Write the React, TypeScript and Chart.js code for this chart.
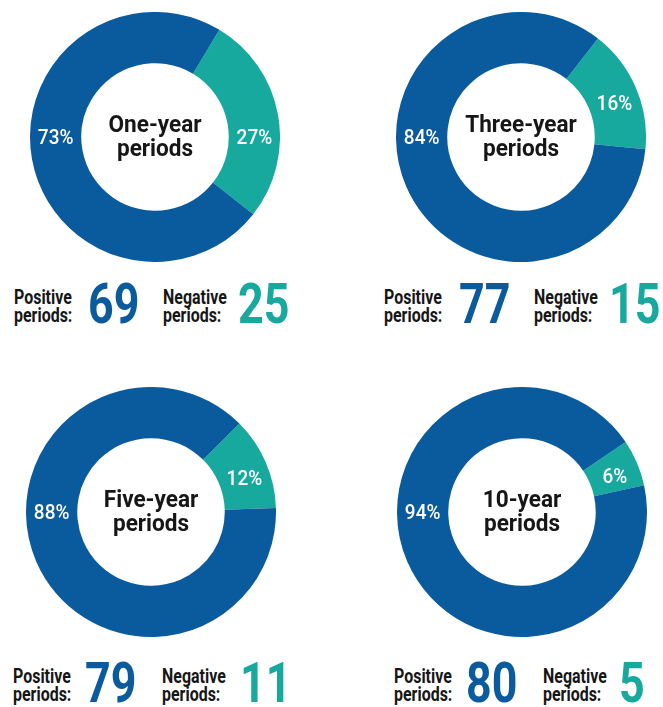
import React, { useEffect, useRef } from "react";
import { Chart, registerables } from "chart.js";

Chart.register(...registerables);

// ---------- data ----------
const sliceCategories = ["Negative", "Positive"];
const titleLine1 = ["One-year", "Three-year", "Five-year", "10-year"];
const titleLine2 = ["periods", "periods", "periods", "periods"];
const negativePct = [27, 16, 12, 6];
const positivePct = [73, 84, 88, 94];
const positiveCounts = [69, 77, 79, 80];
const negativeCounts = [25, 15, 11, 5];
const positiveLabel = ["Positive", "periods:"];
const negativeLabel = ["Negative", "periods:"];

// ---------- style / layout ----------
const BLUE = "#0a5a9e";
const TEAL = "#17a99e";
const INK = "#161616";
const FONT = "Roboto, 'Noto Sans', sans-serif";
const SIZE = 250;
const centers: number[][] = [
  [155, 137],
  [521, 137],
  [151, 512],
  [522, 512],
];
const startAngles = [31, 38, 45, 56];
const tealLabelAngles = [90, 70, 70, 69];
const blueLabelAngle = 270;
const rowTops = [283, 283, 662, 662];
const rowX: number[][] = [
  [14, 88, 163, 238],
  [384, 459, 534, 609],
  [13, 85, 162, 240],
  [394, 466, 543, 619],
];

const labelPlugin = {
  id: "periodLabels",
  afterDatasetsDraw(chart: any, _args: any, opts: any) {
    const idx: number = opts.index;
    const { ctx } = chart;
    const meta = chart.getDatasetMeta(0);
    const values = chart.data.datasets[0].data as number[];
    const angles = [tealLabelAngles[idx], blueLabelAngle];
    ctx.save();
    ctx.fillStyle = "#ffffff";
    ctx.font = `500 20px ${FONT}`;
    ctx.textAlign = "center";
    ctx.textBaseline = "alphabetic";
    let cx = 0;
    let cy = 0;
    meta.data.forEach((arc: any, i: number) => {
      const p = arc.getProps(["x", "y", "innerRadius", "outerRadius"], true);
      cx = p.x;
      cy = p.y;
      const r = (p.innerRadius + p.outerRadius) / 2;
      const a = (angles[i] * Math.PI) / 180;
      const px = p.x + r * Math.sin(a);
      const py = p.y - r * Math.cos(a);
      ctx.save();
      ctx.translate(px, py + 7);
      ctx.scale(0.95, 1);
      ctx.fillText(values[i] + "%", 0, 0);
      ctx.restore();
    });
    // center title
    ctx.fillStyle = INK;
    ctx.font = `700 24px ${FONT}`;
    const lines = [titleLine1[idx], titleLine2[idx]];
    const offs = [-5, 19];
    lines.forEach((t, k) => {
      ctx.save();
      ctx.translate(cx, cy + offs[k]);
      ctx.scale(0.94, 1);
      ctx.fillText(t, 0, 0);
      ctx.restore();
    });
    ctx.restore();
  },
};

function Donut({ index }: { index: number }) {
  const ref = useRef<HTMLCanvasElement | null>(null);
  useEffect(() => {
    if (!ref.current) return;
    const chart = new Chart(ref.current, {
      type: "doughnut",
      data: {
        labels: sliceCategories,
        datasets: [
          {
            data: [negativePct[index], positivePct[index]],
            backgroundColor: [TEAL, BLUE],
            borderWidth: 0,
            hoverBorderWidth: 0,
            hoverOffset: 0,
            offset: 0,
          },
        ],
      },
      options: {
        responsive: false,
        animation: false,
        events: [],
        cutout: "59%",
        rotation: startAngles[index],
        layout: { padding: 0 },
        plugins: {
          legend: { display: false },
          tooltip: { enabled: false },
          periodLabels: { index },
        } as any,
      },
      plugins: [labelPlugin as any],
    });
    return () => chart.destroy();
  }, [index]);
  const [x, y] = centers[index];
  return (
    <canvas
      ref={ref}
      width={SIZE}
      height={SIZE}
      style={{ position: "absolute", left: x - SIZE / 2, top: y - SIZE / 2, width: SIZE, height: SIZE }}
    />
  );
}

function TwoLine({ lines, left, top }: { lines: string[]; left: number; top: number }) {
  return (
    <div
      style={{
        position: "absolute",
        left,
        top,
        fontFamily: FONT,
        fontWeight: 700,
        fontSize: 21,
        lineHeight: "18px",
        color: INK,
        whiteSpace: "nowrap",
        transform: "scaleX(0.76)",
        transformOrigin: "0 0",
      }}
    >
      {lines[0]}
      <br />
      {lines[1]}
    </div>
  );
}

function BigNum({ value, left, top, color }: { value: number; left: number; top: number; color: string }) {
  return (
    <div
      style={{
        position: "absolute",
        left,
        top,
        fontFamily: FONT,
        fontWeight: 700,
        fontSize: 56,
        lineHeight: "56px",
        color,
        whiteSpace: "nowrap",
        transform: "scaleX(0.8)",
        transformOrigin: "0 0",
      }}
    >
      {value}
    </div>
  );
}

export default function App() {
  return (
    <div
      style={{
        position: "absolute",
        left: 0,
        top: 0,
        width: 663,
        height: 707,
        background: "#ffffff",
        overflow: "hidden",
      }}
    >
      {[0, 1, 2, 3].map((i) => (
        <React.Fragment key={i}>
          <Donut index={i} />
          <TwoLine lines={positiveLabel} left={rowX[i][0]} top={rowTops[i] + 5} />
          <BigNum value={positiveCounts[i]} left={rowX[i][1]} top={rowTops[i] - 7} color={BLUE} />
          <TwoLine lines={negativeLabel} left={rowX[i][2]} top={rowTops[i] + 5} />
          <BigNum value={negativeCounts[i]} left={rowX[i][3]} top={rowTops[i] - 7} color={TEAL} />
        </React.Fragment>
      ))}
    </div>
  );
}
